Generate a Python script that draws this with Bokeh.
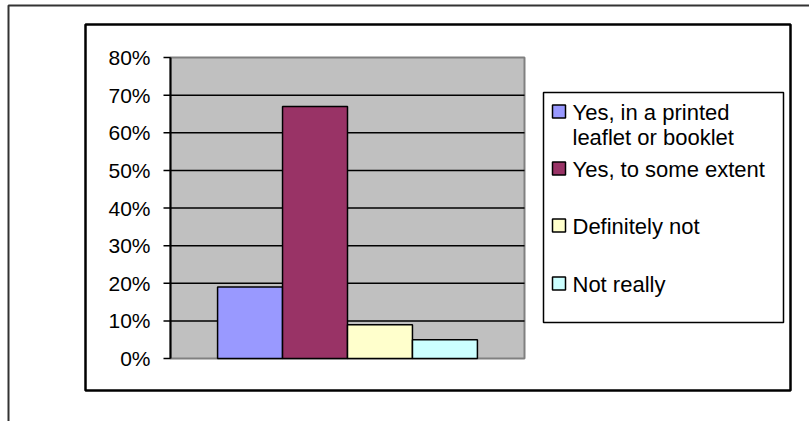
from bokeh.plotting import figure
from bokeh.models import Range1d
from bokeh.core.properties import value
from bokeh.embed import file_html
from bokeh.resources import INLINE

# ---- data ----
series_names = ["Yes, in a printed leaflet or booklet", "Yes, to some extent",
                "Definitely not", "Not really"]
legend_lines = [["Yes, in a printed", "leaflet or booklet"], ["Yes, to some extent"],
                ["Definitely not"], ["Not really"]]
values = [0.19, 0.67, 0.09, 0.05]
colors = ["#9999FF", "#993366", "#FFFFCC", "#CCFFFF"]
y_ticks = [0.0, 0.1, 0.2, 0.3, 0.4, 0.5, 0.6, 0.7, 0.8]
y_tick_labels = ["0%", "10%", "20%", "30%", "40%", "50%", "60%", "70%", "80%"]

# ---- layout geometry (pixels) ----
W, H = 809, 421
PL, PR, PT, PB = 170, 524, 57, 358     # plot area box
FONT = value("Liberation Sans")

p = figure(width=W, height=H, output_backend="svg", toolbar_location=None,
           x_range=Range1d(0, W), y_range=Range1d(H, 0),
           x_axis_location=None, y_axis_location=None, title_location=None,
           min_border=0)
p.outline_line_color = None
p.background_fill_color = "white"
p.border_fill_color = "white"
for g in p.grid:
    g.visible = False

# scales for the chart itself: category axis 0..1 across the plot box, value axis 0..0.8
ymax = y_ticks[-1]
ppu_y = (PB - PT) / ymax
ppu_x = (PR - PL)
p.extra_y_ranges = {"pct": Range1d(-(H - PB) / ppu_y, ymax + PT / ppu_y)}
p.extra_x_ranges = {"cat": Range1d(-PL / ppu_x, (W - PL) / ppu_x)}

# page frame and chart frame
p.multi_line(xs=[[8, 8, W + 5]], ys=[[H + 5, 5, 5]], line_color="#333333", line_width=2)
p.quad(left=85, right=790, top=24, bottom=390, fill_color=None,
       line_color="black", line_width=2.5)

# plot area
p.quad(left=0, right=1, bottom=0, top=ymax, x_range_name="cat", y_range_name="pct",
       fill_color="#C0C0C0", line_color="#808080", line_width=2)
grid = y_ticks[1:-1]
p.segment(x0=[0] * len(grid), x1=[1] * len(grid), y0=grid, y1=grid,
          x_range_name="cat", y_range_name="pct", line_color="black", line_width=1.5)

# bars (one category, four series clustered)
n = len(values)
group_w = 0.734
bar_w = group_w / n
xs = [0.5 + (i - (n - 1) / 2) * bar_w for i in range(n)]
p.vbar(x=xs, top=values, bottom=0, width=bar_w, fill_color=colors,
       line_color="black", line_width=1.5, x_range_name="cat", y_range_name="pct")

# value axis: line, ticks and labels
p.segment(x0=[0], x1=[0], y0=[0], y1=[ymax], x_range_name="cat", y_range_name="pct",
          line_color="black", line_width=2)
p.segment(x0=[PL - 7] * len(y_ticks), x1=[PL] * len(y_ticks), y0=y_ticks, y1=y_ticks,
          y_range_name="pct", line_color="black", line_width=1.5)
p.text(x=[PL - 20] * len(y_ticks), y=y_ticks, text=y_tick_labels, y_range_name="pct",
       text_font=FONT, text_font_size=value("21px"), text_color="black",
       text_align="right", text_baseline="middle")

# legend
p.quad(left=543, right=783, top=92, bottom=322, fill_color="white",
       line_color="black", line_width=1.5)
entry_y = [111, 168, 225, 283]
line_step = 25
for lines, col, y in zip(legend_lines, colors, entry_y):
    p.quad(left=552, right=565, top=y - 6.5, bottom=y + 6.5, fill_color=col,
           line_color="black", line_width=1.5)
    p.text(x=[572] * len(lines), y=[y + 1 + k * line_step for k in range(len(lines))],
           text=lines, text_font=FONT, text_font_size=value("22px"),
           text_color="black", text_align="left", text_baseline="middle")

open("out.html", "w").write(file_html(p, INLINE))
